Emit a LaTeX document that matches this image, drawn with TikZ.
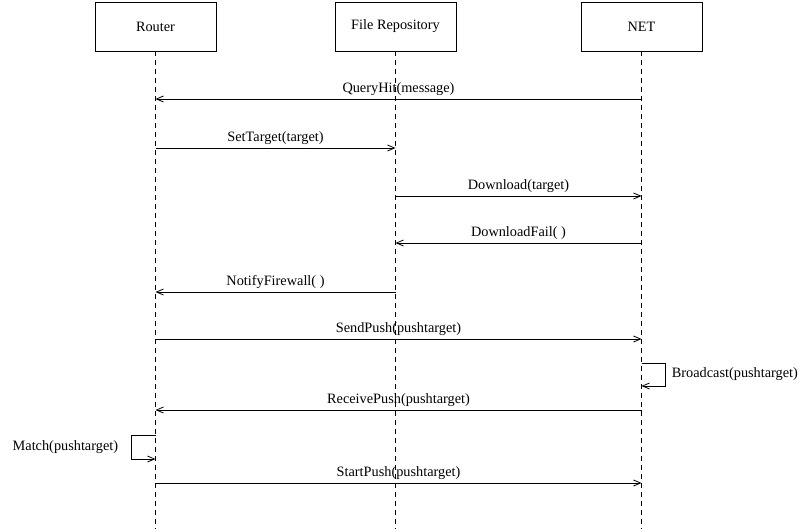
\documentclass[tikz,border=0pt]{standalone}
\usepackage{fontspec}
\setmainfont{Liberation Serif}
\usetikzlibrary{arrows.meta}
\begin{document}
\begin{tikzpicture}[x=1pt,y=-1pt,
  lifebox/.style={draw,line width=0.85pt,minimum width=121pt,minimum height=49pt,inner sep=0pt,font=\fontsize{14.3}{16}\selectfont},
  lifeline/.style={line width=0.85pt,dash pattern=on 5pt off 4pt},
  msg/.style={line width=0.85pt,-{Straight Barb[length=7pt,width=6pt,line width=0.8pt]}},
  lbl/.style={font=\fontsize{14.3}{16}\selectfont,inner sep=1pt}]
\useasboundingbox (0,0) rectangle (800,529);

% participants
\node[lifebox] (router) at (155.5,26.5) {Router};
\node[lifebox] (repo)   at (395.5,26.5) {File Repository};
\node[lifebox] (net)    at (641.5,26.5) {NET};

% lifeline ends
\coordinate (routerEnd) at (155.5,529);
\coordinate (repoEnd)   at (395.5,529);
\coordinate (netEnd)    at (641.5,529);
\draw[lifeline] (router.south) -- (routerEnd);
\draw[lifeline] (repo.south) -- (repoEnd);
\draw[lifeline] (net.south) -- (netEnd);

% message anchor points on the lifelines
\foreach \n/\y in {1/99,2/148,3/196,4/243,5/292,6/339,7a/363,7b/386,8/410,9a/435,9b/459,10/483}{
  \coordinate (r\n) at (155.5,\y);
  \coordinate (f\n) at (395.5,\y);
  \coordinate (t\n) at (641.5,\y);
}

\draw[msg] (t1) -- node[lbl,above=2pt] {QueryHit(message)} (r1);
\draw[msg] (r2) -- node[lbl,above=2pt] {SetTarget(target)} (f2);
\draw[msg] (f3) -- node[lbl,above=2pt] {Download(target)} (t3);
\draw[msg] (t4) -- node[lbl,above=2pt] {DownloadFail( )} (f4);
\draw[msg] (f5) -- node[lbl,above=2pt] {NotifyFirewall( )} (r5);
\draw[msg] (r6) -- node[lbl,above=2pt] {SendPush(pushtarget)} (t6);

% self message on NET
\draw[msg] (t7a) -- ++(24,0) |- node[lbl,pos=0.25,right=5pt] {Broadcast(pushtarget)} (t7b);

\draw[msg] (t8) -- node[lbl,above=2pt] {ReceivePush(pushtarget)} (r8);

% self message on Router
\draw[msg] (r9a) -- ++(-24,0) |- node[lbl,pos=0.25,left=12pt] {Match(pushtarget)} (r9b);

\draw[msg] (r10) -- node[lbl,above=2pt] {StartPush(pushtarget)} (t10);
\end{tikzpicture}
\end{document}
